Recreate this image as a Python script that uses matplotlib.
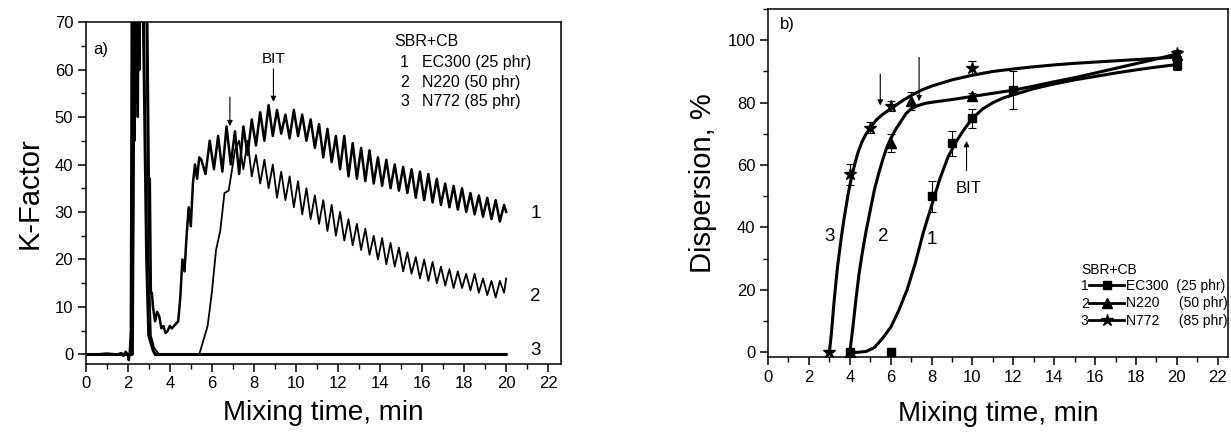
import numpy as np
import matplotlib
matplotlib.use('Agg')
import matplotlib.pyplot as plt
from matplotlib.ticker import MultipleLocator

plt.rcParams['font.family'] = ['Liberation Sans', 'DejaVu Sans']

# ---- panel a) K-factor traces (EC300, N220, N772) ----
# start-up part of curve 1 (spike, plateau, rise)
t1_start = [0.0, 0.5, 1.0, 1.5, 1.7, 1.8, 1.9, 2.0, 2.05, 2.1, 2.15, 2.2, 2.24, 2.28, 2.32,
            2.36, 2.4, 2.44, 2.48, 2.52, 2.56, 2.6, 2.65, 2.9, 3.0, 3.05, 3.1, 3.15, 3.2,
            3.3, 3.4, 3.5, 3.6, 3.7, 3.8, 3.9, 4.0, 4.1, 4.2, 4.3, 4.4, 4.5, 4.6, 4.7, 4.8,
            4.9, 5.0, 5.1, 5.2, 5.3, 5.4]
k1_start = [0.0, 0.0, 0.2, 0.0, 0.3, -0.3, 0.6, 0.0, -1.2, 0.5, 5.0, 85, 38, 85, 45,
            85, 53, 85, 50, 85, 60, 85, 85, 85, 37, 37, 13, 13, 10,
            7, 9, 8, 5.5, 6, 4.5, 5, 6, 5.5, 6, 6.5, 7, 12, 20, 17.5, 25,
            31, 27, 36, 40, 37, 41.5]
# oscillating part of curve 1, sampled every 0.2 min from 5.5 to 19.9, then 20.0
t1_osc = list(np.round(np.arange(5.5, 19.95, 0.2), 2)) + [20.0]
k1_osc = [41, 38, 45, 39, 46, 38.5, 48, 40, 47, 38, 48, 42, 49.5, 44, 51, 45, 52.5, 46,
          51.5, 46.5, 50.5, 45.5, 51.5, 46, 50.5, 45, 49.5, 43.5, 48.5, 41.5, 47.5, 40.5,
          46, 39, 46, 37.5, 44.5, 37, 43.5, 36.5, 43, 36, 41.5, 35.5, 41, 35, 40, 34.5,
          39.5, 34, 39, 33, 38.5, 32.5, 38, 32, 37, 31.5, 36, 31, 35.5, 30.5, 35, 30,
          34, 29.5, 33.5, 29, 33, 28.5, 32.5, 28, 31.5, 30]

# curve 2: start-up and rise
t2_start = [0.0, 1.0, 2.0, 2.25, 2.35, 2.85, 3.0, 3.1, 3.25, 3.4, 3.5, 5.4, 5.6, 5.8, 6.0,
            6.2, 6.4, 6.6, 6.8, 7.0, 7.1]
k2_start = [0.0, 0.0, 0.0, 0.0, 85, 85, 20, 4, 1.5, 0.5, 0.0, 0.0, 3, 6, 13,
            22, 26, 34, 34.5, 40, 43]
# oscillating part of curve 2, every 0.2 min from 7.3 to 19.9, then 20.0
t2_osc = list(np.round(np.arange(7.3, 19.95, 0.2), 2)) + [20.0]
k2_osc = [45, 39, 45, 37.5, 42, 36, 41, 35, 40, 33, 38.5, 32.5, 37.5, 31, 36.5, 29.5,
          35, 28.5, 33.5, 27.5, 32.5, 26, 31.5, 25, 30, 24, 28.5, 23, 27.5, 22, 26.5, 21,
          25, 20, 24.5, 19, 23.5, 18.5, 22.5, 17.5, 21.5, 17, 20.5, 16, 20, 15.5, 19.5, 15,
          18.5, 14.5, 18, 14, 17.5, 14, 17, 13.5, 17, 13, 16, 12.5, 15.5, 12, 15.5, 13, 16]

# curve 3: spike then flat
t3 = [0.0, 1.0, 2.0, 2.2, 2.3, 2.7, 2.9, 3.0, 3.2, 3.3, 20.0]
k3 = [0.0, 0.0, 0.0, 0.0, 85, 85, 20, 4, 1, 0.0, 0.0]

# ---- panel b) dispersion data ----
d1_x = [4, 6, 8, 9, 10, 12, 20]
d1_y = [0, 0, 50, 67, 75, 84, 92]
d1_err = [0, 0, 5, 4, 3, 6, 1.6]
d2_x = [4, 6, 7, 10, 20]
d2_y = [0, 67, 80.5, 82, 95.4]
d2_err = [0, 2.8, 3, 1.2, 1]
d3_x = [3, 4, 5, 6, 10, 20]
d3_y = [0, 57, 72, 79, 91, 96]
d3_err = [0, 3.5, 1.8, 1.6, 2.2, 1]

# fitted trend lines
f1_x = [4.0, 4.4, 4.8, 5.2, 5.6, 6.0, 6.4, 6.8, 7.2, 7.6, 8.0, 8.4, 8.8, 9.2, 9.6, 10.0,
        10.5, 11.0, 11.5, 12.0, 13, 14, 15, 16, 17, 18, 19, 20]
f1_y = [0, 0, 0.3, 1.5, 4.5, 8, 13.5, 20, 28.5, 38.5, 47, 55.5, 62.5, 67.5, 71.5, 75,
        78, 80, 81.5, 82.5, 84.5, 86, 87.3, 88.4, 89.5, 90.5, 91.4, 92.2]
f2_x = [4.0, 4.15, 4.3, 4.45, 4.6, 4.8, 5.0, 5.2, 5.4, 5.6, 5.8, 6.0, 6.25, 6.5, 6.75,
        7.0, 7.3, 7.7, 8.2, 9, 10, 11, 12, 13, 14, 15, 16, 17, 18, 19, 20]
f2_y = [0, 8, 17, 25, 31.5, 39, 45.5, 52, 57, 61.5, 65.5, 68.5, 71.5, 74, 76.5,
        78, 79, 79.8, 80.3, 81, 82, 83, 84, 85.3, 86.7, 88, 89.5, 91, 92.5, 94, 95.6]
f3_x = [3.0, 3.1, 3.2, 3.3, 3.4, 3.5, 3.6, 3.7, 3.8, 3.9, 4.0, 4.1, 4.25, 4.4, 4.6, 4.8,
        5.0, 5.3, 5.6, 6.0, 6.5, 7.0, 7.5, 8.0, 9, 10, 11, 12, 13, 14, 15, 16, 17, 18, 19, 20]
f3_y = [0, 6, 14, 21, 27.5, 32.5, 37.5, 42, 46, 50, 53.5, 56.5, 60.5, 64, 67.5, 70,
        72, 74.5, 76.2, 78, 80.3, 82.3, 84, 85.3, 87.3, 88.8, 90, 90.8, 91.5, 92.1, 92.6,
        93, 93.4, 93.8, 94.2, 94.6]

labels = ['EC300', 'N220', 'N772']
loads = ['(25 phr)', '(50 phr)', '(85 phr)']


def style_axes(ax):
    for s in ax.spines.values():
        s.set_linewidth(1.1)
    ax.tick_params(which='major', direction='out', length=6, width=1.1,
                   labelsize=12, pad=3, top=False, right=False)
    ax.tick_params(which='minor', direction='out', length=3.5, width=1.0,
                   top=False, right=False)


fig = plt.figure(figsize=(12.31, 4.34), dpi=100)

# ---------------- panel a ----------------
ax1 = fig.add_axes([0.0696, 0.1613, 0.386, 0.788])
ax1.plot(t3, k3, color='black', lw=2.2)
ax1.plot(t2_start + t2_osc, k2_start + k2_osc, color='black', lw=1.3)
ax1.plot(t1_start + t1_osc, k1_start + k1_osc, color='black', lw=1.8)
ax1.set_xlim(0, 22.6)
ax1.set_ylim(-2, 70)
ax1.xaxis.set_major_locator(MultipleLocator(2))
ax1.xaxis.set_minor_locator(MultipleLocator(1))
ax1.yaxis.set_major_locator(MultipleLocator(10))
ax1.yaxis.set_minor_locator(MultipleLocator(5))
style_axes(ax1)
ax1.set_xlabel('Mixing time, min', fontsize=20, labelpad=6)
ax1.set_ylabel('K-Factor', fontsize=21, labelpad=8)

ax1.text(0.35, 64.2, 'a)', fontsize=12, va='center')
ax1.text(14.7, 65.9, 'SBR+CB', fontsize=11.5, va='center')
for i, (lab, ld) in enumerate(zip(labels, loads)):
    y = [61.4, 57.3, 53.3][i]
    ax1.text(14.95, y, str(i + 1), fontsize=11.5, va='center')
    ax1.text(16.0, y, lab + ' ' + ld, fontsize=11.5, va='center')
ax1.text(8.95, 62.3, 'BIT', fontsize=11, ha='center', va='center')
ax1.annotate('', xy=(8.93, 52.6), xytext=(8.93, 60.7),
             arrowprops=dict(arrowstyle='-|>', color='black', lw=0.8, mutation_scale=8))
ax1.annotate('', xy=(6.86, 47.5), xytext=(6.86, 54.8),
             arrowprops=dict(arrowstyle='-|>', color='black', lw=0.8, mutation_scale=8))
ax1.text(21.4, 29.7, '1', fontsize=13.5, ha='center', va='center')
ax1.text(21.4, 12.3, '2', fontsize=13.5, ha='center', va='center')
ax1.text(21.4, 0.8, '3', fontsize=13.5, ha='center', va='center')

# ---------------- panel b ----------------
ax2 = fig.add_axes([0.6239, 0.1774, 0.3737, 0.8018])
ax2.plot(f1_x, f1_y, color='black', lw=2.2)
ax2.plot(f2_x, f2_y, color='black', lw=2.2)
ax2.plot(f3_x, f3_y, color='black', lw=2.2)
eb_kw = dict(color='black', ecolor='black', elinewidth=0.8, capsize=3, capthick=0.8,
             linestyle='none')
ax2.errorbar(d1_x, d1_y, yerr=d1_err, marker='s', ms=6, **eb_kw)
ax2.errorbar(d2_x, d2_y, yerr=d2_err, marker='^', ms=7, **eb_kw)
ax2.errorbar(d3_x, d3_y, yerr=d3_err, marker='*', ms=9, **eb_kw)
ax2.set_xlim(0, 22.5)
ax2.set_ylim(-1.5, 110)
ax2.xaxis.set_major_locator(MultipleLocator(2))
ax2.xaxis.set_minor_locator(MultipleLocator(1))
ax2.yaxis.set_major_locator(MultipleLocator(20))
ax2.yaxis.set_minor_locator(MultipleLocator(10))
style_axes(ax2)
ax2.set_xlabel('Mixing time, min', fontsize=20, labelpad=12)
ax2.set_ylabel('Dispersion, %', fontsize=21, labelpad=8)

ax2.text(0.57, 105, 'b)', fontsize=12, va='center')
ax2.text(3.0, 37, '3', fontsize=13.5, ha='center', va='center')
ax2.text(5.62, 37, '2', fontsize=13.5, ha='center', va='center')
ax2.text(8.0, 36, '1', fontsize=13.5, ha='center', va='center')
ax2.text(9.81, 52.5, 'BIT', fontsize=12, ha='center', va='center')
ax2.annotate('', xy=(5.49, 78.2), xytext=(5.49, 90),
             arrowprops=dict(arrowstyle='-|>', color='black', lw=0.8, mutation_scale=8))
ax2.annotate('', xy=(7.39, 79.6), xytext=(7.39, 95.4),
             arrowprops=dict(arrowstyle='-|>', color='black', lw=0.8, mutation_scale=8))
ax2.annotate('', xy=(9.71, 68.6), xytext=(9.71, 57.3),
             arrowprops=dict(arrowstyle='-|>', color='black', lw=0.8, mutation_scale=8))

# legend of panel b
handles = [plt.Line2D([], [], color='black', lw=2, marker=m, ms=s)
           for m, s in zip(['s', '^', '*'], [6, 7, 9])]
leg_labels = [labels[0] + '  ' + loads[0], labels[1] + '     ' + loads[1],
              labels[2] + '     ' + loads[2]]
ax2.legend(handles, leg_labels, loc='upper left', bbox_to_anchor=(15.72, 23.6),
           bbox_transform=ax2.transData, frameon=False, fontsize=10,
           handlelength=2.5, handletextpad=0.1, labelspacing=0.27,
           borderpad=0, borderaxespad=0)
ax2.text(15.33, 26.3, 'SBR+CB', fontsize=10, va='center')
for i, y in enumerate([21.2, 15.6, 9.9]):
    ax2.text(15.3, y, str(i + 1), fontsize=10, va='center')

fig.savefig('out.png', dpi=100)
